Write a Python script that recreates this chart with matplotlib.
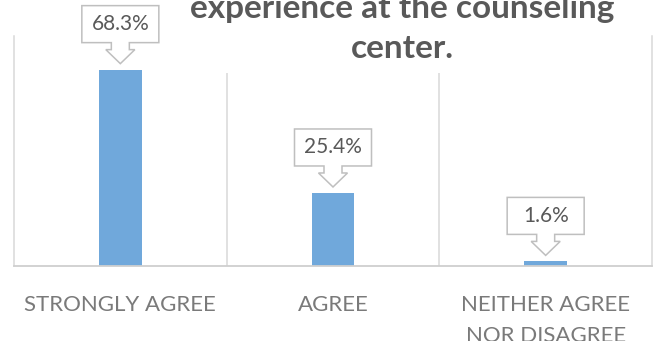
import matplotlib
matplotlib.use("Agg")
import matplotlib.pyplot as plt
from matplotlib.patches import Polygon
from matplotlib.transforms import ScaledTranslation

# Respostas da pesquisa de satisfação (%)
categories = ["STRONGLY AGREE", "AGREE", "NEITHER AGREE\nNOR DISAGREE"]
percentages = [68.3, 25.4, 1.6]
title_lines = ["experience at the counseling", "center."]

BAR_COLOR = "#70A8DB"
GRID_COLOR = "#D9D9D9"
TEXT_GRAY = "#595959"
LABEL_GRAY = "#7A7A7A"

plt.rcParams["font.family"] = ["Lato", "DejaVu Sans"]

W, H = 659, 341
fig = plt.figure(figsize=(W / 100, H / 100), dpi=100)
ax = fig.add_axes([14 / W, (H - 266) / H, 638 / W, 230 / H])

x = list(range(len(categories)))
ax.bar(x, percentages, width=0.2, color=BAR_COLOR, zorder=2)
ax.set_xlim(-0.5, len(categories) - 0.5)
ax.set_ylim(0, 80)

# linhas verticais separando as categorias
ax.set_xticks([i + 0.5 for i in x[:-1]], minor=True)
ax.grid(True, which="minor", axis="x", color=GRID_COLOR, lw=1.1)
ax.tick_params(which="both", length=0)
ax.set_yticks([])
ax.set_xticks(x)
ax.set_xticklabels(categories, fontsize=16, color=LABEL_GRAY, linespacing=1.65)
ax.tick_params(axis="x", pad=21)
for side in ("left", "right"):
    ax.spines[side].set_color(GRID_COLOR)
    ax.spines[side].set_linewidth(1.1)
ax.spines["bottom"].set_color("#CFCFCF")
ax.spines["bottom"].set_linewidth(1.3)
ax.spines["top"].set_visible(False)

# balões (callouts) com seta para baixo, medidas em polegadas
box_w, box_h = 0.77, 0.37
stem_w, stem_h = 0.18, 0.07
head_w, head_h = 0.29, 0.14
gap = 0.06
for xi, v in zip(x, percentages):
    yh = gap + head_h
    yb = yh + stem_h
    yt = yb + box_h
    verts = [
        (-box_w / 2, yb), (-box_w / 2, yt), (box_w / 2, yt), (box_w / 2, yb),
        (stem_w / 2, yb), (stem_w / 2, yh), (head_w / 2, yh), (0, gap),
        (-head_w / 2, yh), (-stem_w / 2, yh), (-stem_w / 2, yb),
    ]
    trans = fig.dpi_scale_trans + ScaledTranslation(xi, v, ax.transData)
    ax.add_patch(Polygon(verts, closed=True, transform=trans, facecolor="white",
                         edgecolor="#BFBFBF", lw=1.1, zorder=4, clip_on=False))
    ax.text(0, yb + box_h / 2, f"{v}%", transform=trans, ha="center", va="center",
            fontsize=15, color=TEXT_GRAY, zorder=5)

# título em duas linhas; o fundo branco esconde o topo das linhas de grade
ax.text(402 / W, 1 - 58 / H, "\n".join(title_lines), transform=fig.transFigure,
        ha="center", va="baseline", fontsize=24, fontweight="bold", color=TEXT_GRAY,
        linespacing=1.45, zorder=10, clip_on=False,
        bbox=dict(facecolor="white", edgecolor="none", pad=7))

fig.savefig("out.png", dpi=100)
